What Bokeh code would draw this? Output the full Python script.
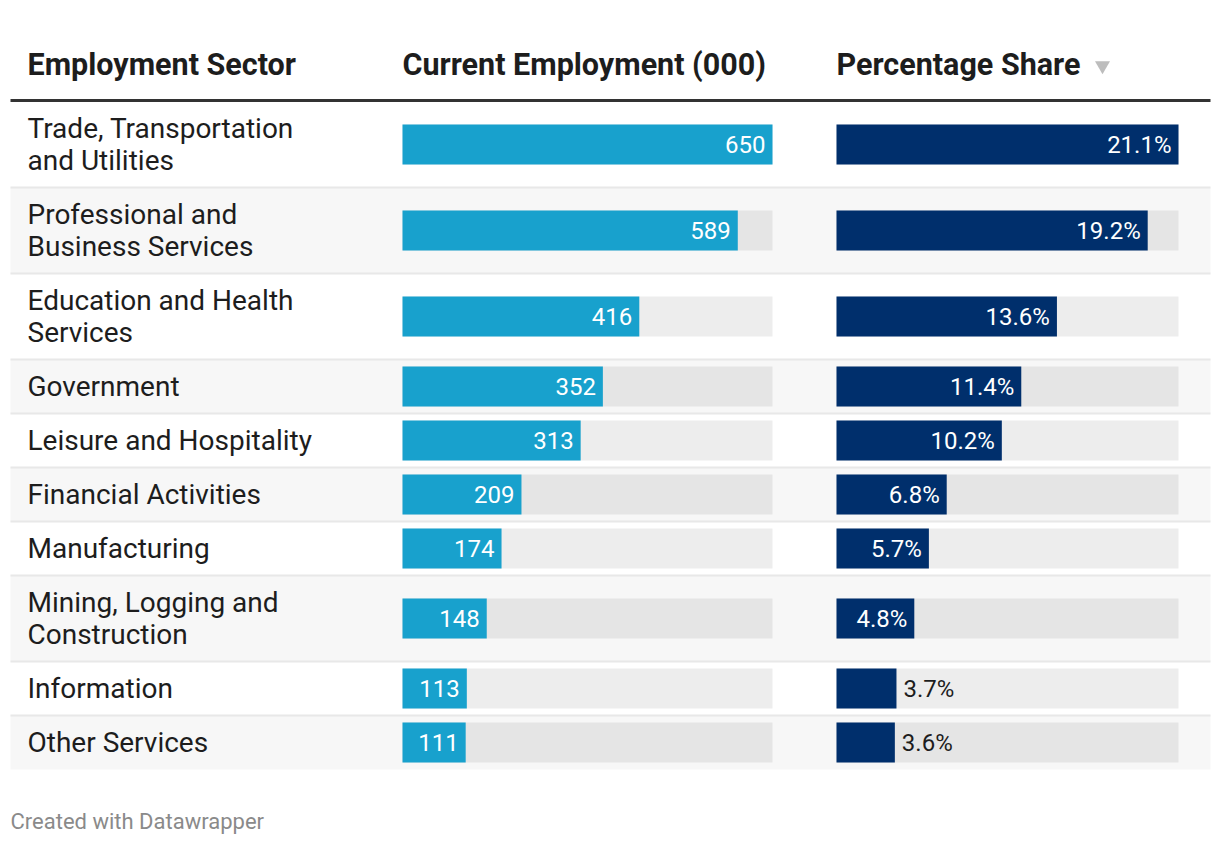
import textwrap
from bokeh.plotting import figure
from bokeh.models import Range1d, ColumnDataSource
from bokeh.core.properties import value
from bokeh.embed import file_html
from bokeh.resources import INLINE

# ---------------- data ----------------
sectors = [
    "Trade, Transportation and Utilities",
    "Professional and Business Services",
    "Education and Health Services",
    "Government",
    "Leisure and Hospitality",
    "Financial Activities",
    "Manufacturing",
    "Mining, Logging and Construction",
    "Information",
    "Other Services",
]
employment = [650, 589, 416, 352, 313, 209, 174, 148, 113, 111]
share_pct = [21.1, 19.2, 13.6, 11.4, 10.2, 6.8, 5.7, 4.8, 3.7, 3.6]
headers = ["Employment Sector", "Current Employment (000)", "Percentage Share"]
footer = "Created with Datawrapper"

# ---------------- layout (pixel coordinates) ----------------
W, H = 1212, 836
TABLE_L, TABLE_R = 10, 1210
COL1_X = 27
EMP_X0, EMP_X1 = 402, 772
PCT_X0, PCT_X1 = 836, 1178
HEADER_Y = 64
RULE_Y = 100
ROW_TOP0 = 101
ONE_LINE_H, EXTRA_LINE_H = 54, 32
BAR_H = 40
FONT = value("Roboto")
TXT = "#1d1d1d"

labels = [textwrap.fill(s, 23) for s in sectors]
nlines = [l.count("\n") + 1 for l in labels]
heights = [ONE_LINE_H + EXTRA_LINE_H * (n - 1) for n in nlines]
tops, bottoms, centers = [], [], []
t = ROW_TOP0
for h in heights:
    tops.append(t)
    bottoms.append(t + h)
    centers.append(t + h / 2)
    t += h

p = figure(width=W, height=H, output_backend="svg", toolbar_location=None,
           x_axis_type=None, y_axis_type=None,
           x_range=Range1d(0, W), y_range=Range1d(H, 0),
           min_border=0, outline_line_color=None)
p.grid.visible = False
p.background_fill_color = "white"
p.border_fill_color = "white"

emp_max = max(employment)
pct_max = max(share_pct)
ek = emp_max / (EMP_X1 - EMP_X0)
pk = pct_max / (PCT_X1 - PCT_X0)
es = -EMP_X0 * ek
ps = -PCT_X0 * pk
p.extra_x_ranges = {"emp": Range1d(es, es + W * ek), "pct": Range1d(ps, ps + W * pk)}

# striped row backgrounds
alt = [i for i in range(len(sectors)) if i % 2 == 1]
p.quad(left=TABLE_L, right=TABLE_R, top=[tops[i] for i in alt],
       bottom=[bottoms[i] for i in alt], fill_color="#f7f7f7", line_color=None)

# row separators
p.segment(x0=TABLE_L, x1=TABLE_R, y0=bottoms[:-1], y1=bottoms[:-1],
          line_color="#e8e8e8", line_width=2)

# header rule
p.segment(x0=[TABLE_L], x1=[TABLE_R], y0=[RULE_Y], y1=[RULE_Y],
          line_color="#333333", line_width=3)

# headers
p.text(x=[COL1_X, EMP_X0, PCT_X0], y=[HEADER_Y] * 3, text=headers,
       text_font=FONT, text_font_size="30.5px", text_font_style="bold",
       text_color=TXT, text_align="left", text_baseline="middle")
p.scatter(x=[1102], y=[HEADER_Y + 1], marker="inverted_triangle", size=15,
          fill_color="#bdbdbd", line_color=None)

# row labels
p.text(x=[COL1_X] * len(labels), y=centers, text=labels,
       text_font=FONT, text_font_size="28px", text_color=TXT,
       text_align="left", text_baseline="middle", text_line_height=0.95)

# background bars
p.hbar(y=centers, left=0, right=emp_max, height=BAR_H, x_range_name="emp",
       fill_color="black", fill_alpha=0.07, line_color=None)
p.hbar(y=centers, left=0, right=pct_max, height=BAR_H, x_range_name="pct",
       fill_color="black", fill_alpha=0.07, line_color=None)

# value bars
p.hbar(y=centers, left=0, right=employment, height=BAR_H, x_range_name="emp",
       fill_color="#18a1cd", line_color=None)
p.hbar(y=centers, left=0, right=share_pct, height=BAR_H, x_range_name="pct",
       fill_color="#002f6c", line_color=None)


def add_value_labels(vals, fmt, rng, k):
    txts = [fmt(v) for v in vals]
    inside = [(v / k) >= len(s) * 12 + 16 for v, s in zip(vals, txts)]
    src_in = ColumnDataSource(dict(x=[v for v, f in zip(vals, inside) if f],
                                   y=[c for c, f in zip(centers, inside) if f],
                                   t=[s for s, f in zip(txts, inside) if f]))
    src_out = ColumnDataSource(dict(x=[v for v, f in zip(vals, inside) if not f],
                                    y=[c for c, f in zip(centers, inside) if not f],
                                    t=[s for s, f in zip(txts, inside) if not f]))
    p.text(x="x", y="y", text="t", source=src_in, x_range_name=rng,
           x_offset=-7, text_align="right", text_baseline="middle",
           text_font=FONT, text_font_size="24px", text_color="white")
    p.text(x="x", y="y", text="t", source=src_out, x_range_name=rng,
           x_offset=7, text_align="left", text_baseline="middle",
           text_font=FONT, text_font_size="24px", text_color=TXT)


add_value_labels(employment, lambda v: f"{v}", "emp", ek)
add_value_labels(share_pct, lambda v: f"{v:.1f}%", "pct", pk)

# footer
p.text(x=[TABLE_L], y=[821], text=[footer], text_font=FONT,
       text_font_size="22px", text_color="#8a8a8a",
       text_align="left", text_baseline="middle")

open("out.html", "w").write(file_html(p, INLINE))
